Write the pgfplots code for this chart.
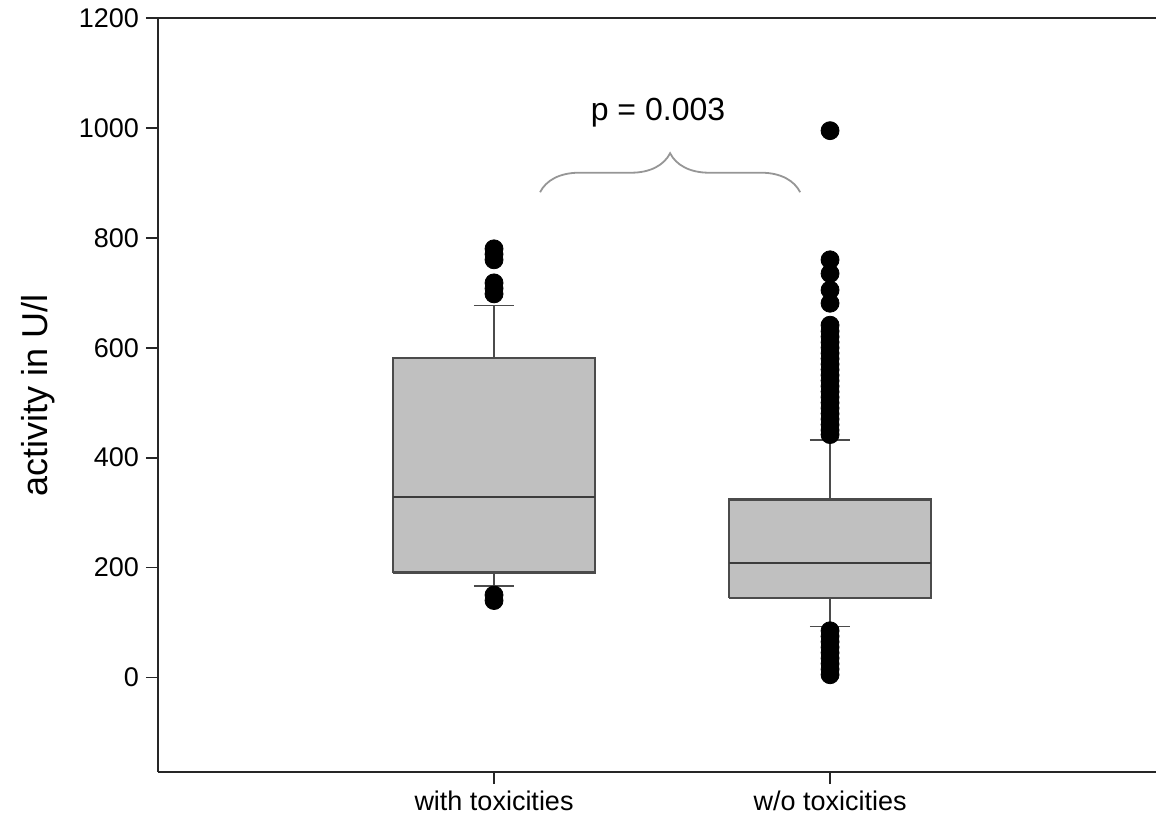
\documentclass[border=0pt]{standalone}
\usepackage{fontspec}
\setmainfont{Liberation Sans}
\usepackage{pgfplots}
\pgfplotsset{compat=1.18}
\usetikzlibrary{decorations.pathreplacing}
\definecolor{boxfill}{RGB}{192,192,192}
\definecolor{boxline}{RGB}{75,75,75}
\definecolor{bracegray}{RGB}{150,150,150}
\begin{document}
\begin{tikzpicture}
\useasboundingbox (-79pt,-27.5pt) rectangle (499pt,386pt);
\begin{axis}[
  scale only axis,
  width=499pt, height=377pt,
  xmin=0, xmax=2.97,
  ymin=-172, ymax=1200,
  axis x line=box, axis y line=left,
  axis line style={-, line width=1.3pt, black!85},
  xtick={1,2},
  xticklabels={with toxicities, w/o toxicities},
  xtick pos=left,
  ytick={0,200,400,600,800,1000,1200},
  tick align=outside,
  major tick length=6pt,
  tick style={black!85, line width=0.9pt},
  /pgf/number format/assume math mode=true,
  /pgf/number format/1000 sep={},
  ticklabel style={font=\fontsize{13.5}{15}\selectfont},
  ylabel={activity in U/l},
  ylabel style={at={(axis description cs:-0.12,0.5)}, anchor=center, font=\fontsize{18}{20}\selectfont},
  clip=false,
]
% whiskers
\addplot[boxline, line width=0.8pt] coordinates {(1,581) (1,677)};
\addplot[boxline, line width=0.8pt] coordinates {(0.94,677) (1.06,677)};
\addplot[boxline, line width=0.8pt] coordinates {(1,191) (1,166)};
\addplot[boxline, line width=0.8pt] coordinates {(0.94,166) (1.06,166)};
\addplot[boxline, line width=0.8pt] coordinates {(2,324) (2,432)};
\addplot[boxline, line width=0.8pt] coordinates {(1.94,432) (2.06,432)};
\addplot[boxline, line width=0.8pt] coordinates {(2,144) (2,93)};
\addplot[boxline, line width=0.8pt] coordinates {(1.94,93) (2.06,93)};
% boxes
\addplot[draw=boxline, fill=boxfill, line width=1.1pt] coordinates {(0.7,191) (1.3,191) (1.3,581) (0.7,581) (0.7,191)};
\addplot[draw=boxline, fill=boxfill, line width=1.1pt] coordinates {(1.7,144) (2.3,144) (2.3,324) (1.7,324) (1.7,144)};
% medians
\addplot[boxline!80!black, line width=1pt] coordinates {(0.7,328) (1.3,328)};
\addplot[boxline!80!black, line width=1pt] coordinates {(1.7,209) (2.3,209)};
% outliers
\addplot[only marks, mark=*, mark size=4.5pt, mark options={fill=black, draw=black}] coordinates {
 (1,780) (1,770) (1,760) (1,718) (1,708) (1,698) (1,150) (1,140)};
\addplot[only marks, mark=*, mark size=4.5pt, mark options={fill=black, draw=black}] coordinates {
 (2,995) (2,760) (2,735) (2,705) (2,681) (2,641) (2,630) (2,620) (2,610) (2,600) (2,590) (2,580) (2,570) (2,560) (2,550) (2,540) (2,530) (2,520) (2,510) (2,500) (2,490) (2,480) (2,470) (2,460) (2,450) (2,442)
 (2,85) (2,75) (2,65) (2,55) (2,45) (2,35) (2,25) (2,15) (2,5)};
\coordinate (bl) at (axis cs:1.137,883);
\coordinate (br) at (axis cs:1.911,883);
\coordinate (pt) at (axis cs:1.488,1028);
\end{axis}
\draw[bracegray, line width=0.9pt, decorate, decoration={brace, amplitude=19.5pt}]
  (bl) -- (br);
\node[font=\fontsize{16}{18}\selectfont] at (pt) {p = 0.003};
\end{tikzpicture}
\end{document}
